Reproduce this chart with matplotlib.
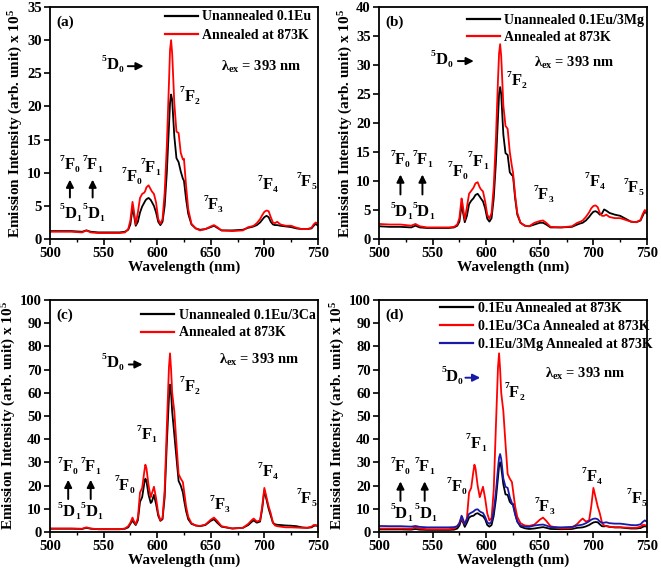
import numpy as np
from matplotlib import pyplot as plt
from matplotlib.ticker import MultipleLocator

plt.rcParams['font.family'] = 'Liberation Serif'
plt.rcParams['font.weight'] = 'bold'
plt.rcParams['axes.labelweight'] = 'bold'
plt.rcParams['mathtext.fontset'] = 'custom'
plt.rcParams['mathtext.rm'] = 'Liberation Serif:bold'
plt.rcParams['mathtext.it'] = 'Liberation Serif:bold'
plt.rcParams['mathtext.bf'] = 'Liberation Serif:bold'
plt.rcParams['mathtext.default'] = 'rm'

#==============================================================================
# data, intensity x 10^5
#==============================================================================
wl = [500, 510, 520, 530, 534, 538, 545, 555, 565, 570, 573, 575, 577, 578, 580,
      582, 584, 586, 588, 589, 590, 592, 594, 595, 597, 599, 601, 603, 605, 607,
      609, 611, 612, 613, 614, 616, 618, 620, 622, 624, 625, 627, 629, 632, 636,
      640, 645, 650, 653, 656, 660, 670, 680, 685, 688, 690, 693, 696, 698, 700,
      702, 704, 706, 708, 710, 712, 715, 720, 725, 730, 735, 740, 744, 746, 748, 750]

eu_un = [1.2, 1.2, 1.2, 1.1, 1.3, 1.1, 1.0, 1.0, 1.0, 1.1, 1.4, 2.2, 4.6, 4.0, 2.0,
         2.6, 4.0, 4.9, 5.5, 5.8, 6.0, 6.2, 5.9, 5.6, 5.0, 4.0, 2.6, 2.1, 2.6, 5.0,
         10.0, 17.0, 20.5, 21.8, 21.0, 15.5, 12.2, 11.6, 10.2, 9.1, 8.8, 6.0, 3.8, 2.2, 1.6,
         1.4, 1.5, 1.8, 2.0, 1.7, 1.3, 1.3, 1.4, 1.7, 1.8, 1.9, 2.1, 2.5, 2.9, 3.3,
         3.5, 3.3, 2.6, 2.2, 2.1, 2.1, 2.0, 1.9, 1.8, 1.6, 1.5, 1.5, 1.6, 2.0, 2.3, 2.0]

eu_ann = [1.1, 1.1, 1.1, 1.0, 1.3, 1.0, 0.9, 0.9, 0.9, 1.0, 1.5, 2.8, 5.6, 4.6, 2.2,
          4.0, 6.2, 6.8, 7.0, 7.3, 7.8, 8.1, 7.5, 7.2, 6.8, 5.5, 3.0, 2.3, 3.0, 7.0,
          14.0, 23.5, 28.5, 30.0, 28.0, 20.5, 16.2, 16.0, 13.0, 12.0, 12.1, 8.0, 4.5, 2.3, 1.6,
          1.3, 1.5, 1.9, 2.1, 1.8, 1.3, 1.2, 1.3, 1.8, 1.9, 2.0, 2.4, 3.0, 3.6, 4.1,
          4.3, 4.2, 3.3, 2.5, 2.4, 2.6, 2.2, 2.0, 2.0, 1.7, 1.5, 1.5, 1.7, 2.2, 2.5, 2.3]

mg_un = [2.2, 2.1, 2.1, 2.0, 2.3, 2.0, 1.9, 1.9, 1.9, 2.0, 2.3, 3.0, 5.8, 5.0, 2.9,
         4.0, 6.0, 6.6, 7.0, 7.3, 7.6, 7.8, 7.3, 7.0, 6.5, 5.3, 3.5, 3.0, 3.6, 7.0,
         13.0, 21.0, 25.0, 26.2, 25.0, 18.0, 14.8, 14.5, 11.5, 11.0, 10.9, 7.0, 4.2, 2.8, 2.3,
         2.2, 2.5, 2.8, 2.8, 2.5, 2.0, 2.0, 2.1, 2.5, 2.7, 2.8, 3.2, 3.8, 4.3, 4.7,
         4.8, 4.6, 4.2, 4.4, 5.1, 4.9, 4.5, 4.2, 4.0, 3.5, 3.0, 2.9, 3.2, 4.0, 4.8, 4.3]

mg_ann = [2.6, 2.5, 2.5, 2.3, 2.6, 2.2, 2.0, 2.0, 2.0, 2.1, 2.5, 3.6, 7.0, 6.0, 3.3,
          5.5, 7.8, 8.3, 8.8, 9.2, 9.6, 9.8, 8.9, 8.6, 8.2, 6.5, 4.2, 3.5, 4.5, 9.0,
          17.0, 27.5, 32.0, 33.6, 31.5, 23.0, 19.5, 19.0, 15.0, 12.5, 11.5, 7.5, 4.5, 2.8, 2.3,
          2.2, 2.8, 3.1, 3.2, 2.8, 2.1, 2.0, 2.2, 2.8, 3.0, 3.2, 3.8, 4.6, 5.3, 5.7,
          5.8, 5.5, 4.5, 4.0, 4.0, 4.2, 3.8, 3.6, 3.6, 3.3, 3.0, 2.9, 3.3, 4.3, 5.0, 4.4]

ca_un = [1.4, 1.4, 1.4, 1.3, 1.8, 1.4, 1.2, 1.2, 1.2, 1.4, 2.0, 3.5, 5.0, 4.2, 3.0,
         5.0, 13.0, 15.0, 21.0, 23.0, 22.0, 16.0, 12.5, 13.0, 16.0, 12.0, 7.0, 4.8, 5.5, 15.0,
         38.0, 58.0, 63.5, 60.0, 52.0, 42.0, 32.0, 22.0, 20.0, 17.0, 14.0, 9.0, 5.5, 3.5, 2.8,
         2.5, 3.0, 4.8, 5.5, 4.0, 2.3, 1.5, 1.8, 3.0, 4.3, 5.0, 4.0, 4.5, 10.0, 18.0,
         14.0, 10.0, 7.0, 4.0, 3.3, 3.1, 3.0, 2.8, 2.7, 2.5, 2.0, 1.8, 2.0, 2.6, 2.8, 2.5]

ca_ann = [1.5, 1.5, 1.5, 1.4, 2.0, 1.5, 1.2, 1.2, 1.2, 1.5, 2.5, 4.0, 6.2, 5.0, 3.3,
          6.0, 17.0, 19.0, 26.0, 29.0, 27.5, 20.0, 15.0, 16.5, 19.5, 14.5, 8.0, 5.0, 6.0, 18.0,
          45.0, 71.0, 77.0, 70.0, 60.0, 52.0, 38.0, 25.0, 23.0, 21.5, 18.0, 11.0, 6.5, 3.8, 2.8,
          2.6, 3.2, 5.3, 6.2, 4.8, 2.5, 1.5, 1.8, 3.5, 5.0, 5.8, 4.5, 5.0, 11.0, 19.0,
          15.0, 11.0, 8.0, 4.0, 2.8, 2.5, 2.3, 2.0, 2.0, 1.9, 1.8, 1.8, 2.3, 3.0, 3.0, 2.6]

lis_panel = ['(a)', '(b)', '(c)', '(d)']
lis_ymax = [35, 40, 100, 100]
lis_ystep = [5, 5, 10, 10]

col_blue = '#1a1aa8'

# series per panel: (values, colour, label)
lis_series = [
    [(eu_un, 'black', 'Unannealed 0.1Eu'), (eu_ann, 'red', 'Annealed at 873K')],
    [(mg_un, 'black', 'Unannealed 0.1Eu/3Mg'), (mg_ann, 'red', 'Annealed at 873K')],
    [(ca_un, 'black', 'Unannealed 0.1Eu/3Ca'), (ca_ann, 'red', 'Annealed at 873K')],
    [(eu_ann, 'black', '0.1Eu Annealed at 873K'), (ca_ann, 'red', '0.1Eu/3Ca Annealed at 873K'),
     (mg_ann, col_blue, '0.1Eu/3Mg Annealed at 873K')],
]

# legend anchor (axes fraction) and label spacing
lis_leg_anchor = [(0.428, 0.985), (0.328, 0.972), (0.340, 0.962), (0.228, 0.992)]
lis_leg_space = [0.40, 0.33, 0.33, 0.37]
# label positions: x in nm (left edge), y in axes fraction (centre)
lis_lambda = [(660, 0.743), (645, 0.758), (658, 0.741), (655, 0.683)]
lis_d0 = [(548, 0.75, 570, 590), (548, 0.772, 571, 591), (548, 0.727, 571, 589), (558, 0.67, 578, 597)]
lis_peak = [
    {'F2': (621, 0.614), 'F1': (584, 0.304), 'F0': (567, 0.268), 'F3': (643, 0.146), 'F4': (694, 0.232), 'F5': (730, 0.246)},
    {'F2': (619, 0.68), 'F1': (583, 0.333), 'F0': (564, 0.29), 'F3': (644, 0.19), 'F4': (692, 0.246), 'F5': (728, 0.218)},
    {'F2': (621, 0.626), 'F1': (581, 0.417), 'F0': (560, 0.20), 'F3': (649, 0.115), 'F4': (694, 0.259), 'F5': (730, 0.144)},
    {'F2': (617, 0.60), 'F1': (581, 0.381), 'F0': (563, 0.194), 'F3': (645, 0.108), 'F4': (689, 0.237), 'F5': (731, 0.144)},
]
# left group: x of arrows (nm), y of upper label, arrow bottom/top, lower label
lis_left = [
    (518.6, 539.8, 0.318, 0.167, 0.268, 0.11),
    (520.0, 540.5, 0.34, 0.18, 0.29, 0.117),
    (517.0, 538.0, 0.28, 0.13, 0.237, 0.086),
    (520.0, 542.6, 0.28, 0.122, 0.23, 0.079),
]

lis_pos = [[0.0756, 0.5843, 0.4054, 0.4035], [0.5734, 0.5843, 0.4054, 0.4035],
           [0.0756, 0.0748, 0.4054, 0.4035], [0.5734, 0.0748, 0.4054, 0.4035]]

FS_BIG = 12
FS_SMALL = 6.8
W_BIG = {'F': 0.611, 'D': 0.722}


def term(ax, x, y, sup, big, sub, center=False):
    # spectroscopic term like 7F1: small superscript, big letter, small subscript
    tr = ax.get_xaxis_transform()
    w_sup = 0.5 * FS_SMALL
    w_big = W_BIG[big] * FS_BIG
    x0 = -(w_sup + w_big + 0.5 * FS_SMALL) / 2 if center else 0
    kw = dict(xy=(x, y), xycoords=tr, textcoords='offset points', va='center', ha='left')
    ax.annotate(sup, xytext=(x0, 0.38 * FS_BIG), fontsize=FS_SMALL, **kw)
    ax.annotate(big, xytext=(x0 + w_sup, 0), fontsize=FS_BIG, **kw)
    ax.annotate(sub, xytext=(x0 + w_sup + w_big, -0.30 * FS_BIG), fontsize=FS_SMALL, **kw)


fig = plt.figure(figsize=(6.61, 5.75), dpi=100)

for n in range(4):
    ax = fig.add_axes(lis_pos[n])
    for vals, col, lab in lis_series[n]:
        ax.plot(wl, vals, color=col, lw=1.3, label=lab)

    ax.set_xlim(500, 750)
    ax.set_ylim(0, lis_ymax[n])
    ax.xaxis.set_major_locator(MultipleLocator(50))
    ax.xaxis.set_minor_locator(MultipleLocator(25))
    ax.yaxis.set_major_locator(MultipleLocator(lis_ystep[n]))
    ax.tick_params(which='major', direction='out', length=4, width=1.2, labelsize=10.5, pad=2)
    ax.tick_params(which='minor', direction='out', length=2.5, width=1.0)
    for s in ax.spines.values():
        s.set_linewidth(1.3)
    ax.set_xlabel('Wavelength (nm)', fontsize=11, labelpad=0)
    ax.set_ylabel('Emission Intensity (arb. unit) x 10$^5$', fontsize=11, labelpad=1)

    tr = ax.get_xaxis_transform()
    ax.text(0.025, 0.935, lis_panel[n], transform=ax.transAxes, fontsize=11, va='center')

    leg = ax.legend(loc='upper left', bbox_to_anchor=lis_leg_anchor[n], frameon=False,
                    fontsize=10, handlelength=2.4, handletextpad=0.3,
                    labelspacing=lis_leg_space[n], borderpad=0, borderaxespad=0)
    for h in leg.get_lines():
        h.set_linewidth(1.6)

    x, y = lis_lambda[n]
    ax.text(x, y, 'λ$_{ex}$ = 393 nm', transform=tr, fontsize=10.5, va='center')

    x, y, xa0, xa1 = lis_d0[n]
    arr_col = col_blue if n == 3 else 'black'
    term(ax, x, y, '5', 'D', '0')
    ax.annotate('', xy=(xa1, y - 0.005), xytext=(xa0, y - 0.005), xycoords=tr, textcoords=tr,
                arrowprops=dict(arrowstyle='-|>', color=arr_col, lw=1.4, mutation_scale=11))

    for key, (x, y) in lis_peak[n].items():
        term(ax, x, y, '7', 'F', key[1])

    xa, xb, yt, ya0, ya1, yb = lis_left[n]
    for xc, j in ((xa, 0), (xb, 1)):
        term(ax, xc - 0.5, yt, '7', 'F', str(j), center=True)
        ax.annotate('', xy=(xc, ya1), xytext=(xc, ya0), xycoords=tr, textcoords=tr,
                    arrowprops=dict(arrowstyle='-|>', color='black', lw=1.4, mutation_scale=11))
        term(ax, xc + 0.5, yb, '5', 'D', '1', center=True)

plt.savefig('out.png', dpi=100)
